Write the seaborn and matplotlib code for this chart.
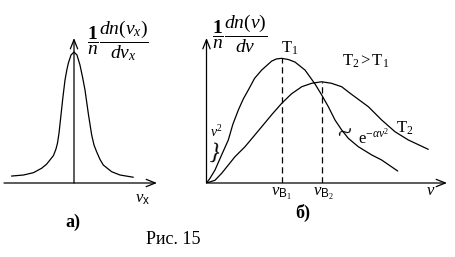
import matplotlib
matplotlib.use("Agg")
import matplotlib.pyplot as plt
import seaborn as sns
import pandas as pd

# ---------------- data ----------------
# Panel a: distribution of a velocity component
vx_a = [-1.25, -1.01, -0.81, -0.65, -0.55, -0.48, -0.41, -0.36, -0.33, -0.30, -0.26, -0.226, -0.18,
        -0.145, -0.114, -0.06, 0.0, 0.06, 0.12, 0.17, 0.22, 0.29, 0.354, 0.40, 0.454, 0.52, 0.586,
        0.754, 0.92, 1.186]
f_a = [0.053, 0.061, 0.079, 0.112, 0.143, 0.176, 0.21, 0.26, 0.305, 0.38, 0.52, 0.641, 0.786,
       0.86, 0.914, 0.977, 1.0, 0.977, 0.90, 0.81, 0.71, 0.52, 0.366, 0.29, 0.237, 0.18, 0.137,
       0.086, 0.061, 0.044]

# Panel b: Maxwell speed distribution, two temperatures
v_T1 = [0.0, 0.047, 0.113, 0.19, 0.29, 0.35, 0.423, 0.49, 0.556, 0.64, 0.734, 0.867, 0.93, 1.0,
        1.09, 1.177, 1.31, 1.443, 1.532, 1.62, 1.709, 1.798, 1.886, 2.019, 2.197, 2.33, 2.543]
f_T1 = [0.0, 0.038, 0.104, 0.21, 0.345, 0.47, 0.585, 0.675, 0.746, 0.84, 0.906, 0.978, 0.995, 1.0,
        0.99, 0.970, 0.906, 0.794, 0.706, 0.612, 0.505, 0.425, 0.358, 0.291, 0.225, 0.184, 0.096]
v_T2 = [0.0, 0.113, 0.202, 0.379, 0.512, 0.734, 0.87, 1.0, 1.13, 1.266, 1.40, 1.532, 1.66, 1.798,
        1.911, 2.152, 2.33, 2.507, 2.684, 2.949]
f_T2 = [0.0, 0.022, 0.078, 0.211, 0.291, 0.451, 0.55, 0.639, 0.715, 0.772, 0.80, 0.812, 0.80, 0.772,
        0.719, 0.612, 0.505, 0.411, 0.345, 0.27]
# most probable speeds and peak heights
v_B = [1.0, 1.532]
f_peak = [1.0, 0.812]

# ---------------- style ----------------
sns.set_theme(style="white")
plt.rcParams['font.family'] = ['Liberation Serif', 'DejaVu Serif']
plt.rcParams['mathtext.fontset'] = 'custom'
plt.rcParams['mathtext.rm'] = 'Liberation Serif'
plt.rcParams['mathtext.it'] = 'Liberation Serif:italic'
plt.rcParams['mathtext.bf'] = 'Liberation Serif:bold'
plt.rcParams['mathtext.sf'] = 'Liberation Sans'

W, H = 455, 257
fig = plt.figure(figsize=(W / 100, H / 100), dpi=100)
fig.patch.set_facecolor('white')


def P(x, y):
    return (x / W, 1 - y / H)


def T(x, y, s, **kw):
    kw.setdefault('ha', 'center')
    kw.setdefault('va', 'center')
    kw.setdefault('color', 'black')
    fig.text(*P(x, y), s, **kw)


LW = 0.9
arrow = dict(arrowstyle="->,head_length=0.55,head_width=0.22", lw=LW, color='black',
             shrinkA=0, shrinkB=0)

# ---------------- panel a ----------------
axa = fig.add_axes([4 / W, 1 - 183 / H, (157 - 4) / W, (183 - 38) / H])
axa.set_xlim(-1.4, 1.66)
axa.set_ylim(0, 1.107)
axa.axis('off')
dfa = pd.DataFrame({'v': vx_a, 'f': f_a})
sns.lineplot(data=dfa, x='v', y='f', ax=axa, color='black', lw=LW, sort=False,
             estimator=None, legend=False)
axa.annotate("", xy=(1.66, 0), xytext=(-1.4, 0), arrowprops=arrow, annotation_clip=False)
axa.annotate("", xy=(0, 1.107), xytext=(0, 0), arrowprops=arrow, annotation_clip=False)

# ---------------- panel b ----------------
axb = fig.add_axes([206.5 / W, 1 - 183 / H, (447 - 206.5) / W, (183 - 38) / H])
axb.set_xlim(0, 3.198)
axb.set_ylim(0, 1.163)
axb.axis('off')
df1 = pd.DataFrame({'v': v_T1, 'f': f_T1})
df2 = pd.DataFrame({'v': v_T2, 'f': f_T2})
sns.lineplot(data=df1, x='v', y='f', ax=axb, color='black', lw=LW, sort=False,
             estimator=None, legend=False)
sns.lineplot(data=df2, x='v', y='f', ax=axb, color='black', lw=LW, sort=False,
             estimator=None, legend=False)
axb.vlines(v_B, 0, f_peak, colors='black', lw=LW, linestyles=(0, (5, 3)))
axb.annotate("", xy=(3.198, 0), xytext=(0, 0), arrowprops=arrow, annotation_clip=False)
axb.annotate("", xy=(0, 1.163), xytext=(0, 0), arrowprops=arrow, annotation_clip=False)

# ---------------- texts ----------------
T(87, 41, r"$\dfrac{\mathbf{1}}{n}\dfrac{dn(v_x)}{dv_x}$", fontsize=14, ha='left')
T(212, 34, r"$\dfrac{\mathbf{1}}{n}\dfrac{dn(v)}{dv}$", fontsize=14, ha='left')
T(143, 199, r"$v_{\mathsf{x}}$", fontsize=12)
T(73, 222, "а)", fontsize=13, fontweight='bold')
T(303, 213, "б)", fontsize=13, fontweight='bold')
T(173, 240, "Рис. 15", fontsize=13)

T(290, 48, r"T$_1$", fontsize=12)
T(366, 61, r"T$_2$$\,$>$\,$T$_1$", fontsize=12)
T(405, 128, r"T$_2$", fontsize=12)
T(358, 138, r"e$^{-\alpha v^2}$", fontsize=12, ha='left')
T(345, 135, "~", fontsize=20, rotation=18)
T(216, 132, r"$v^2$", fontsize=10)
T(215, 153, "}", fontsize=17, rotation=-12)
T(281, 194, r"$v_{\mathsf{B}_1}$", fontsize=12)
T(323, 194, r"$v_{\mathsf{B}_2}$", fontsize=12)
T(431, 191, r"$v$", fontsize=12)

fig.savefig("out.png", dpi=100, facecolor='white')
